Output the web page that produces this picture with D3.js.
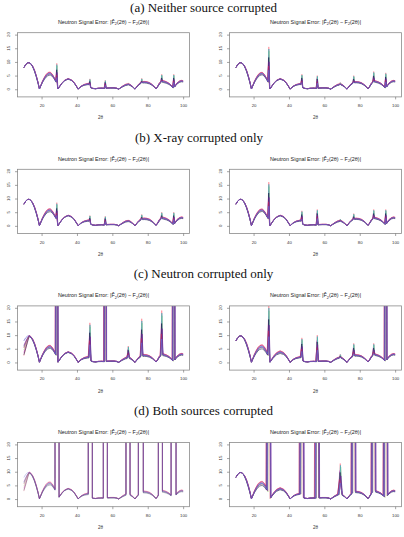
<!DOCTYPE html>
<html><head><meta charset="utf-8">
<script src="https://cdn.jsdelivr.net/npm/d3@7"></script>
<style>body{margin:0;background:#fff}svg{display:block}</style>
</head><body>
<script>
// ---------- data ----------
const captions = ["(a) Neither source corrupted","(b) X-ray corrupted only","(c) Neutron corrupted only","(d) Both sources corrupted"];
const xTicks = [20,40,60,80,100];
const yTicks = [0,5,10,15,20];

// baseline neutron signal error curve (2θ, error)
const angle   = [10,11,12,12.5,13,14,15,16,17,18,18.8,19.5,20.5,21.5,22.5,23.5,24.3,25,26,27,28,28.6,29.3,30,30.5,31.5,33,35,37,38.5,39.8,40.7,41.5,42.5,44,46,47.1,47.8,49,50.5,52,54,55.9,57,59,61,62.5,63.6,64.8,66,67.5,69,70,71.5,72.8,73.8,75,76.5,78,79.5,81,82.5,84,84.7,85.5,86.5,87.8,89,90.5,92,93.5,94.6,95.5,96.5,98,99,100];
const baseErr = [7.9,9.0,9.6,9.7,9.7,9.3,8.3,6.8,4.8,2.4,0.1,1.2,2.7,3.9,4.9,5.5,5.7,5.7,5.2,4.2,3.0,2.2,0.1,0.8,1.3,2.2,3.2,3.8,3.3,2.3,1.0,0.05,0.6,1.1,1.6,1.9,1.9,0.6,0.3,0.2,0.35,0.4,0.3,0.45,0.5,0.5,0.35,0.05,0.6,1.1,1.6,1.8,1.6,0.9,0.05,0.9,1.8,2.5,2.6,2.5,2.2,1.6,0.7,0.2,0.9,2.0,2.9,2.8,2.5,2.0,1.2,0.3,1.2,2.1,2.8,3.0,2.9];

// positions of the reflection spikes
const spikeAt = [28.6,47.3,56.0,69.0,76.6,87.9,94.7];

// spike tops per panel (>=100 means off the chart)
const spikeTopAL = [9.5,3.8,3.3,2.2,4.0,5.5,5.5];
const spikeTopAR = [15.5,5.5,5.0,2.5,5.0,6.5,6.0];
const spikeTopBL = [8.5,3.8,3.5,2.0,4.2,5.0,5.0];
const spikeTopBR = [16,5.5,6.0,2.5,4.5,6.0,6.0];
const spikeTopCL = [300,14.5,300,6,16,19,300];
const spikeTopCR = [21,9,10,3,7,7,300];
const spikeTopDL = [0,0,0,0,0,0,0];
const spikeTopDR = [300,300,300,13,300,300,300];

// panel (d) left: ranges where the error leaves the chart
const jumpStartDL = [27.6,46.4,54.9,67.7,74.7,86.0,93.2];
const jumpEndDL   = [29.9,48.7,57.2,70.0,77.5,88.3,96.0];

// relative spread of the replicate curves along 2θ
const bandX  = [10,14,19,24,29,35,41,47,60,76,88,100];
const bandAL = [0,0,0.1,0.12,0.05,0.03,0.08,0.15,0.2,0.12,0.15,0.1];
const bandAR = [0,0,0.1,0.1,0.05,0.03,0.08,0.12,0.2,0.1,0.12,0.1];
const bandCL = [0.05,0.02,0.1,0.12,0.06,0.04,0.1,0.2,0.25,0.15,0.15,0.12];
const bandCR = [0,0,0.15,0.15,0.15,0.15,0.1,0.15,0.2,0.12,0.12,0.1];
const bandDR = [0,0,0.15,0.15,0.15,0.12,0.1,0.12,0.2,0.12,0.12,0.1];

// replicate series
const seriesColor    = ["#ff7080","#e030c0","#a0d070","#30b0c0","#181848","#8010a0","#c02060","#6464d4"];
const seriesBandMul  = [0.9,0.5,-0.4,0.2,-0.9,-0.2,0.7,0];
const seriesStartK   = [1.0,0.8,0.6,0.4,0.9,0.3,0.5,0];
const seriesSpikeFrac= [1.0,0.8,0.9,0.95,0.75,0.65,0.55,0.45];
const seriesHalfW    = [0.35,0.5,0.3,0.4,0.55,0.45,0.6,0.5];
const seriesShift    = [0,-0.1,0.1,0.05,-0.05,0.15,-0.15,0];

// ---------- layout ----------
const W = 404, H = 537;
const colLeft = [17.5, 229.5], boxW = 172, boxH = 64.2;
const rowTop0 = 32.7, rowStep = 136.6;

const panels = [
  {r:0,c:0,top:spikeTopAL,band:bandAL,drop:0,ws:1},
  {r:0,c:1,top:spikeTopAR,band:bandAR,drop:0,ws:1},
  {r:1,c:0,top:spikeTopBL,band:bandAL,drop:0,ws:1},
  {r:1,c:1,top:spikeTopBR,band:bandAR,drop:0,ws:1},
  {r:2,c:0,top:spikeTopCL,band:bandCL,drop:0.7,ws:1.3},
  {r:2,c:1,top:spikeTopCR,band:bandCR,drop:0,ws:1.3},
  {r:3,c:0,top:spikeTopDL,band:bandCL,drop:0.65,ws:1,jl:jumpStartDL,jr:jumpEndDL},
  {r:3,c:1,top:spikeTopDR,band:bandDR,drop:0,ws:2.2}
];

const svg = d3.select("body").append("svg").attr("width",W).attr("height",H);

// captions
captions.forEach((t,i)=>{
  svg.append("text").attr("x", i===1?199:203.5).attr("y", i===0 ? 12 : 5 + i*rowStep)
    .attr("text-anchor","middle").attr("font-family","Liberation Serif, serif")
    .attr("font-size",13).attr("fill","#111").text(t);
});

function interpAt(pts, x){
  for(let i=1;i<pts.length;i++){
    if(pts[i][0]>=x){
      const a=pts[i-1], b=pts[i];
      const t=(x-a[0])/((b[0]-a[0])||1);
      return a[1]+t*(b[1]-a[1]);
    }
  }
  return pts[pts.length-1][1];
}

function seriesPoints(p, s){
  const bandAt = d3.scaleLinear().domain(bandX).range(p.band).clamp(true);
  let pts = angle.map((x,i)=>{
    let v = baseErr[i]*(1 + seriesBandMul[s]*bandAt(x));
    if(p.drop) v *= 1 - p.drop*seriesStartK[s]*Math.max(0, 1-(x-10)/3);
    return [x, Math.max(0,v)];
  });
  p.top.forEach((h,i)=>{
    if(!h) return;
    const x0 = spikeAt[i] + seriesShift[s]*p.ws;
    const w = seriesHalfW[s]*p.ws;
    const hh = h>=100 ? h : h*seriesSpikeFrac[s];
    const a = interpAt(pts,x0-w), b = interpAt(pts,x0+w), c = interpAt(pts,x0);
    pts = pts.filter(q=>q[0]<=x0-w || q[0]>=x0+w);
    pts.push([x0-w,a],[x0,Math.max(hh,c)],[x0+w,b]);
    pts.sort((u,v)=>u[0]-v[0]);
  });
  if(p.jl){
    p.jl.forEach((xl,i)=>{
      const xr = p.jr[i];
      const a = interpAt(pts,xl), b = interpAt(pts,xr);
      pts = pts.filter(q=>q[0]<xl || q[0]>xr);
      pts.push([xl,a],[xl+0.02,300],[xr-0.02,300],[xr,b]);
      pts.sort((u,v)=>u[0]-v[0]);
    });
  }
  return pts;
}

panels.forEach((p,pi)=>{
  const left = colLeft[p.c], top = rowTop0 + p.r*rowStep;
  const x = d3.scaleLinear().domain([6.4,103.6]).range([left,left+boxW]);
  const y = d3.scaleLinear().domain([-2.8,20.7]).range([top+boxH,top]);
  const g = svg.append("g");
  const cid = "clip"+pi;
  svg.append("clipPath").attr("id",cid).append("rect")
    .attr("x",left).attr("y",top).attr("width",boxW).attr("height",boxH);

  const line = d3.line().x(d=>x(d[0])).y(d=>y(d[1])).curve(d3.curveLinear);
  const lg = g.append("g").attr("clip-path",`url(#${cid})`);
  seriesColor.forEach((col,s)=>{
    lg.append("path").attr("d", line(seriesPoints(p,s)))
      .attr("fill","none").attr("stroke",col).attr("stroke-width",p.jl?0.55:0.7)
      .attr("stroke-opacity", p.jl ? 0.6 : (s===seriesColor.length-1 ? 0.95 : 0.8))
      .attr("stroke-linejoin","round");
  });

  // box
  g.append("rect").attr("x",left).attr("y",top).attr("width",boxW).attr("height",boxH)
    .attr("fill","none").attr("stroke","#8a8a8a").attr("stroke-width",0.8);

  // x axis
  const xa = g.append("g").attr("transform",`translate(0,${top+boxH})`)
    .call(d3.axisBottom(x).tickValues(xTicks).tickSize(2.5).tickSizeOuter(0).tickPadding(4.5));
  xa.select(".domain").remove();
  xa.selectAll("line").attr("stroke","#666").attr("stroke-width",0.6);
  xa.selectAll("text").attr("font-family","Liberation Sans, Arial, sans-serif")
    .attr("font-size",4.3).attr("fill","#333");

  // y axis
  const ya = g.append("g").attr("transform",`translate(${left},0)`)
    .call(d3.axisLeft(y).tickValues(yTicks).tickSize(2.5).tickSizeOuter(0).tickFormat(""));
  ya.select(".domain").remove();
  ya.selectAll("line").attr("stroke","#666").attr("stroke-width",0.6);
  yTicks.forEach(v=>{
    g.append("text").attr("transform",`translate(${left-7.5},${y(v)}) rotate(-90)`)
      .attr("text-anchor","middle").attr("font-family","Liberation Sans, Arial, sans-serif")
      .attr("font-size",4.3).attr("fill","#333").text(v);
  });

  // x label
  g.append("text").attr("x",left+boxW/2 - (p.c===0?3:0)).attr("y",top+boxH+22.5)
    .attr("text-anchor","middle").attr("font-family","Liberation Sans, Arial, sans-serif")
    .attr("font-size",4.5).attr("fill","#333").text("2θ");

  // title
  const t = g.append("text").attr("x",left+boxW/2).attr("y",top-8.5)
    .attr("text-anchor","middle").attr("font-family","Liberation Sans, Arial, sans-serif")
    .attr("font-size",5.4).attr("fill","#222");
  t.append("tspan").text("Neutron Signal Error: |F\u0302");
  t.append("tspan").attr("font-size",3.8).attr("dy",1.2).text("2");
  t.append("tspan").attr("dy",-1.2).text("(2θ) \u2212 F");
  t.append("tspan").attr("font-size",3.8).attr("dy",1.2).text("2");
  t.append("tspan").attr("dy",-1.2).text("(2θ)|");
});
</script>
</body></html>
